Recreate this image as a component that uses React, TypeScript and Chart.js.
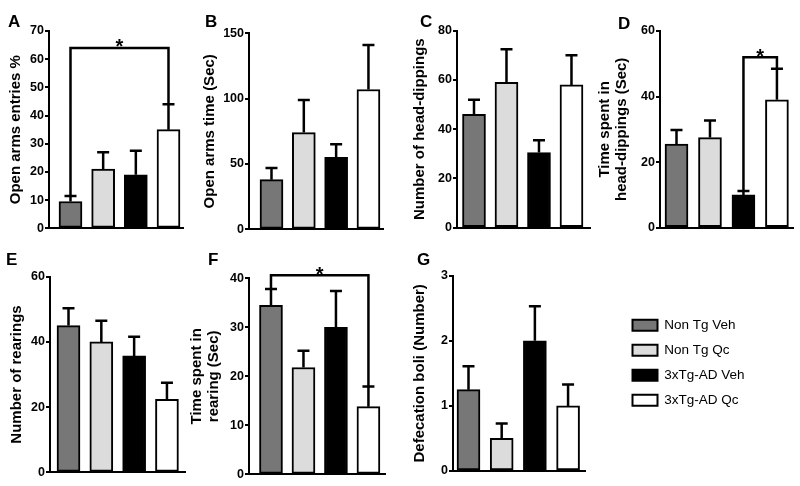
import React, { useEffect, useRef } from 'react';
import { Chart, registerables } from 'chart.js';

Chart.register(...registerables);

const FONT = 'Arial, "Liberation Sans", Helvetica, sans-serif';
Chart.defaults.font.family = FONT;

// ---- Data ----
const groups = ['Non Tg Veh', 'Non Tg Qc', '3xTg-AD Veh', '3xTg-AD Qc'];
const groupColors = ['#777777', '#dcdcdc', '#000000', '#ffffff'];
const groupX = [1, 2, 3, 4];

// A
const entriesMean = [9.5, 21, 19, 35];
const entriesSem = [2, 6, 8.5, 9];
const entriesTicks = [0, 10, 20, 30, 40, 50, 60, 70];
// B
const openTimeMean = [38, 74, 55, 107];
const openTimeSem = [9, 25, 10, 34];
const openTimeTicks = [0, 50, 100, 150];
// C
const headDipMean = [46, 59, 30.5, 58];
const headDipSem = [6, 13.5, 5, 12];
const headDipTicks = [0, 20, 40, 60, 80];
// D
const headDipTimeMean = [25.5, 27.5, 10, 39];
const headDipTimeSem = [4.3, 5.2, 1.2, 9.5];
const headDipTimeTicks = [0, 20, 40, 60];
// E
const rearingsMean = [45, 40, 35.7, 22.4];
const rearingsSem = [5.3, 6.5, 5.9, 5.1];
const rearingsTicks = [0, 20, 40, 60];
// F
const rearTimeMean = [34.5, 21.8, 30, 13.8];
const rearTimeSem = [3.3, 3.4, 7.4, 4.1];
const rearTimeTicks = [0, 10, 20, 30, 40];
// G
const boliMean = [1.25, 0.5, 2.0, 1.0];
const boliSem = [0.36, 0.23, 0.53, 0.33];
const boliTicks = [0, 1, 2, 3];

// significance brackets
const bracketA = { from: 0, to: 3, level: 64 };
const bracketD = { from: 2, to: 3, level: 52 };
const bracketF = { from: 0, to: 3, level: 40.6 };

// ---- Plugins ----
const errorBarPlugin = {
  id: 'errorBars',
  afterDatasetsDraw(chart: any) {
    const ds = chart.data.datasets[0];
    if (!ds || !ds.sem) return;
    const sem: number[] = ds.sem;
    const meta = chart.getDatasetMeta(0);
    const y = chart.scales.y;
    const ctx = chart.ctx;
    ctx.save();
    ctx.strokeStyle = '#000';
    ctx.lineWidth = 2.5;
    meta.data.forEach((el: any, i: number) => {
      const v = ds.data[i].y;
      const top = y.getPixelForValue(v + sem[i]);
      ctx.beginPath();
      ctx.moveTo(el.x, el.y);
      ctx.lineTo(el.x, top);
      ctx.moveTo(el.x - 6, top);
      ctx.lineTo(el.x + 6, top);
      ctx.stroke();
    });
    ctx.restore();
  },
};

const bracketPlugin = {
  id: 'sigBracket',
  afterDatasetsDraw(chart: any, _args: any, opts: any) {
    if (!opts || opts.level == null) return;
    const ds = chart.data.datasets[0];
    const sem: number[] = ds.sem || [];
    const meta = chart.getDatasetMeta(0);
    const y = chart.scales.y;
    const ctx = chart.ctx;
    const a = meta.data[opts.from];
    const b = meta.data[opts.to];
    const yl = y.getPixelForValue(opts.level);
    const ya = y.getPixelForValue(ds.data[opts.from].y + sem[opts.from]);
    const yb = y.getPixelForValue(ds.data[opts.to].y + sem[opts.to]);
    ctx.save();
    ctx.strokeStyle = '#000';
    ctx.lineWidth = 2.5;
    ctx.beginPath();
    ctx.moveTo(a.x, ya);
    ctx.lineTo(a.x, yl);
    ctx.lineTo(b.x, yl);
    ctx.lineTo(b.x, yb);
    ctx.stroke();
    ctx.fillStyle = '#000';
    ctx.font = `bold 20px ${FONT}`;
    ctx.textAlign = 'center';
    ctx.textBaseline = 'alphabetic';
    ctx.fillText('*', (a.x + b.x) / 2, yl + 5.5);
    ctx.restore();
  },
};

const letterPlugin = {
  id: 'panelLetter',
  afterDraw(chart: any, _args: any, opts: any) {
    if (!opts || !opts.text) return;
    const ctx = chart.ctx;
    ctx.save();
    ctx.fillStyle = '#000';
    ctx.font = `bold 17px ${FONT}`;
    ctx.textAlign = 'left';
    ctx.textBaseline = 'alphabetic';
    ctx.fillText(opts.text, opts.x, opts.y);
    ctx.restore();
  },
};

type Panel = {
  letter: string;
  title: string | string[];
  mean: number[];
  sem: number[];
  ticks: number[];
  bracket?: { from: number; to: number; level: number };
  box: { left: number; top: number; width: number; height: number };
  axisX: number;
  plotTop: number;
  plotBottom: number;
  plotRight: number;
  titleCx: number;
  xMin: number;
  xMax: number;
  letterX: number;
  letterY: number;
};

const panels: Panel[] = [
  {
    letter: 'A', title: 'Open arms entries %', mean: entriesMean, sem: entriesSem, ticks: entriesTicks, bracket: bracketA,
    box: { left: 0, top: 0, width: 196, height: 240 }, axisX: 49, plotTop: 31, plotBottom: 228.3, plotRight: 183,
    titleCx: 16, xMin: 0.342, xMax: 4.444, letterX: 8, letterY: 27,
  },
  {
    letter: 'B', title: 'Open arms time (Sec)', mean: openTimeMean, sem: openTimeSem, ticks: openTimeTicks,
    box: { left: 198, top: 0, width: 196, height: 240 }, axisX: 249, plotTop: 33.3, plotBottom: 229.3, plotRight: 383,
    titleCx: 210, xMin: 0.304, xMax: 4.45, letterX: 205, letterY: 27,
  },
  {
    letter: 'C', title: 'Number of head-dippings', mean: headDipMean, sem: headDipSem, ticks: headDipTicks,
    box: { left: 398, top: 0, width: 200, height: 240 }, axisX: 457, plotTop: 30.7, plotBottom: 227.7, plotRight: 590,
    titleCx: 420, xMin: 0.477, xMax: 4.57, letterX: 420, letterY: 27,
  },
  {
    letter: 'D', title: ['Time spent in', 'head-dippings (Sec)'], mean: headDipTimeMean, sem: headDipTimeSem, ticks: headDipTimeTicks, bracket: bracketD,
    box: { left: 592, top: 0, width: 208, height: 240 }, axisX: 660, plotTop: 31, plotBottom: 227.7, plotRight: 793,
    titleCx: 605, xMin: 0.507, xMax: 4.48, letterX: 618, letterY: 28.5,
  },
  {
    letter: 'E', title: 'Number of rearings', mean: rearingsMean, sem: rearingsSem, ticks: rearingsTicks,
    box: { left: 0, top: 240, width: 196, height: 246 }, axisX: 50, plotTop: 276.7, plotBottom: 472.3, plotRight: 185,
    titleCx: 17, xMin: 0.436, xMax: 4.55, letterX: 6, letterY: 265,
  },
  {
    letter: 'F', title: ['Time spent in', 'rearing (Sec)'], mean: rearTimeMean, sem: rearTimeSem, ticks: rearTimeTicks, bracket: bracketF,
    box: { left: 188, top: 240, width: 206, height: 246 }, axisX: 249, plotTop: 278.3, plotBottom: 474.3, plotRight: 385,
    titleCx: 197, xMin: 0.323, xMax: 4.51, letterX: 208, letterY: 265,
  },
  {
    letter: 'G', title: 'Defecation boli (Number)', mean: boliMean, sem: boliSem, ticks: boliTicks,
    box: { left: 400, top: 240, width: 200, height: 246 }, axisX: 453, plotTop: 275.7, plotBottom: 471, plotRight: 585,
    titleCx: 420, xMin: 0.533, xMax: 4.51, letterX: 417, letterY: 265,
  },
];

// legend canvas placement
const legendBox = { left: 620.5, top: 307.25, width: 170, height: 280 };

function PanelChart({ p }: { p: Panel }) {
  const ref = useRef<HTMLCanvasElement | null>(null);
  useEffect(() => {
    if (!ref.current) return;
    const { left, top, width, height } = p.box;
    const yW = p.axisX - left;
    const titleLH = 1.1;
    const titleSize = 15;
    const chart = new Chart(ref.current, {
      type: 'bar',
      data: {
        datasets: [
          {
            label: Array.isArray(p.title) ? p.title.join(' ') : p.title,
            data: p.mean.map((v, i) => ({ x: groupX[i], y: v })),
            sem: p.sem,
            backgroundColor: groupColors,
            borderColor: '#000',
            borderWidth: 2,
            borderSkipped: false,
            barThickness: 23,
          } as any,
        ],
      },
      options: {
        responsive: false,
        animation: false,
        devicePixelRatio: 1,
        layout: {
          padding: {
            left: 0,
            top: p.plotTop - top,
            right: left + width - p.plotRight,
            bottom: top + height - p.plotBottom,
          },
        },
        scales: {
          x: {
            type: 'linear',
            min: p.xMin,
            max: p.xMax,
            offset: false,
            grid: { display: false, drawTicks: false },
            ticks: { display: false, stepSize: 1, includeBounds: false },
            border: { display: true, color: '#000', width: 2 },
          },
          y: {
            type: 'linear',
            min: 0,
            max: p.ticks[p.ticks.length - 1],
            ticks: {
              stepSize: p.ticks[1] - p.ticks[0],
              font: { size: 12.5, weight: 'bold', family: FONT },
              color: '#000',
              padding: 1,
            },
            grid: { drawOnChartArea: false, drawTicks: true, tickLength: 4, color: '#000', lineWidth: 2 },
            border: { display: true, color: '#000', width: 2 },
            title: {
              display: true,
              text: p.title,
              color: '#000',
              font: { size: titleSize, weight: 'bold', family: FONT, lineHeight: titleLH },
              padding: { top: p.titleCx - left - (titleSize * titleLH) / 2, bottom: 0 },
            },
            afterFit: (s: any) => {
              s.width = yW;
            },
          },
        } as any,
        plugins: {
          legend: { display: false },
          tooltip: { enabled: false },
          panelLetter: { text: p.letter, x: p.letterX - left, y: p.letterY - top },
          sigBracket: p.bracket ? p.bracket : {},
        } as any,
      },
      plugins: [errorBarPlugin, bracketPlugin, letterPlugin],
    } as any);
    return () => chart.destroy();
  }, [p]);
  return (
    <canvas
      ref={ref}
      width={p.box.width}
      height={p.box.height}
      style={{ position: 'absolute', left: p.box.left, top: p.box.top, width: p.box.width, height: p.box.height }}
    />
  );
}

function LegendChart() {
  const ref = useRef<HTMLCanvasElement | null>(null);
  useEffect(() => {
    if (!ref.current) return;
    const chart = new Chart(ref.current, {
      type: 'bar',
      data: {
        labels: [],
        datasets: groups.map((g, i) => ({
          label: g,
          data: [],
          backgroundColor: groupColors[i],
          borderColor: '#000',
          borderWidth: 2,
        })),
      },
      options: {
        responsive: false,
        animation: false,
        devicePixelRatio: 1,
        layout: { padding: 0 },
        scales: { x: { display: false }, y: { display: false } },
        plugins: {
          tooltip: { enabled: false },
          legend: {
            display: true,
            position: 'top',
            align: 'start',
            onClick: () => {},
            labels: {
              boxWidth: 25,
              boxHeight: 11,
              padding: 11.5,
              color: '#000',
              font: { size: 13.5, family: FONT },
            },
          },
        },
      } as any,
    } as any);
    return () => chart.destroy();
  }, []);
  return (
    <canvas
      ref={ref}
      width={legendBox.width}
      height={legendBox.height}
      style={{ position: 'absolute', left: legendBox.left, top: legendBox.top, width: legendBox.width, height: legendBox.height }}
    />
  );
}

export default function App() {
  return (
    <div
      style={{ position: 'absolute', left: 0, top: 0, width: 800, height: 486, background: '#fff', overflow: 'hidden' }}
    >
      {panels.map((p) => (
        <PanelChart key={p.letter} p={p} />
      ))}
      <LegendChart />
    </div>
  );
}
